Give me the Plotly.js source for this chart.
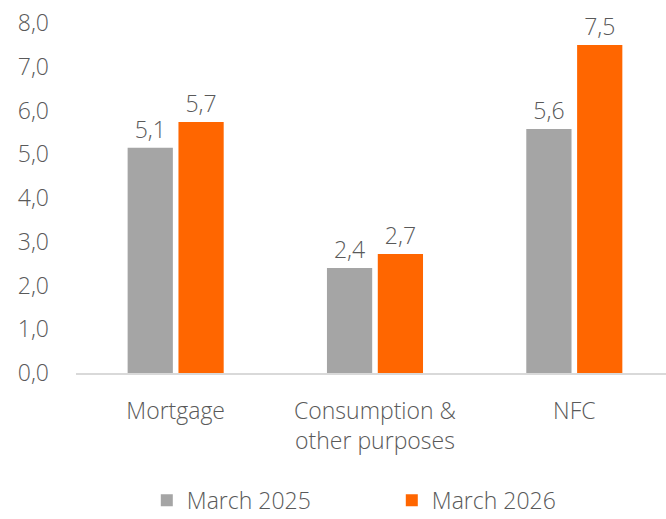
<!DOCTYPE html>
<html>
<head>
<meta charset="utf-8">
<script src="https://cdn.plot.ly/plotly-3.0.1.min.js"></script>
<style>html,body{margin:0;padding:0;background:#fff;}#chart{width:666px;height:519px;}</style>
</head>
<body>
<div id="chart"></div>
<script>
var categories = ["Mortgage", "Consumption &<br>other purposes", "NFC"];
var seriesNames = ["March 2025", "March 2026"];
var march2025 = [5.15, 2.4, 5.58];
var march2026 = [5.74, 2.72, 7.5];
var labels2025 = ["5,1", "2,4", "5,6"];
var labels2026 = ["5,7", "2,7", "7,5"];
var yTickVals = [0, 1, 2, 3, 4, 5, 6, 7, 8];
var yTickText = ["0,0", "1,0", "2,0", "3,0", "4,0", "5,0", "6,0", "7,0", "8,0"];

var font = {family: "Open Sans, sans-serif", size: 23, color: "#595959", weight: 300};

var traces = [
  {type: "bar", name: seriesNames[0], x: categories, y: march2025, text: labels2025,
   textposition: "outside", textfont: font, cliponaxis: false,
   marker: {color: "#A5A5A5"}, hoverinfo: "none"},
  {type: "bar", name: seriesNames[1], x: categories, y: march2026, text: labels2026,
   textposition: "outside", textfont: font, cliponaxis: false,
   marker: {color: "#FF6600"}, hoverinfo: "none"}
];

var layout = {
  width: 666, height: 519,
  margin: {l: 76, r: 0, t: 23, b: 146},
  paper_bgcolor: "#fff", plot_bgcolor: "#fff",
  font: font,
  barmode: "group",
  bargap: 0.49,
  bargroupgap: 0.11,
  showlegend: true,
  legend: {orientation: "h", x: 0.12, xanchor: "left", xref: "paper",
           y: 0.036, yanchor: "middle", yref: "container",
           font: font, entrywidth: 200, traceorder: "normal"},
  xaxis: {range: [-0.5, 2.46], showline: true, linecolor: "#D9D9D9", linewidth: 2,
          ticks: "", showgrid: false, zeroline: false, tickfont: font, fixedrange: true,
          automargin: false, ticklabelstandoff: 16},
  yaxis: {range: [0, 8], tickvals: yTickVals, ticktext: yTickText, showgrid: false,
          zeroline: false, showline: false, ticks: "", tickfont: font,
          ticklabelstandoff: 26, fixedrange: true, automargin: false}
};

Plotly.newPlot("chart", traces, layout, {displayModeBar: false, staticPlot: true});
</script>
</body>
</html>
